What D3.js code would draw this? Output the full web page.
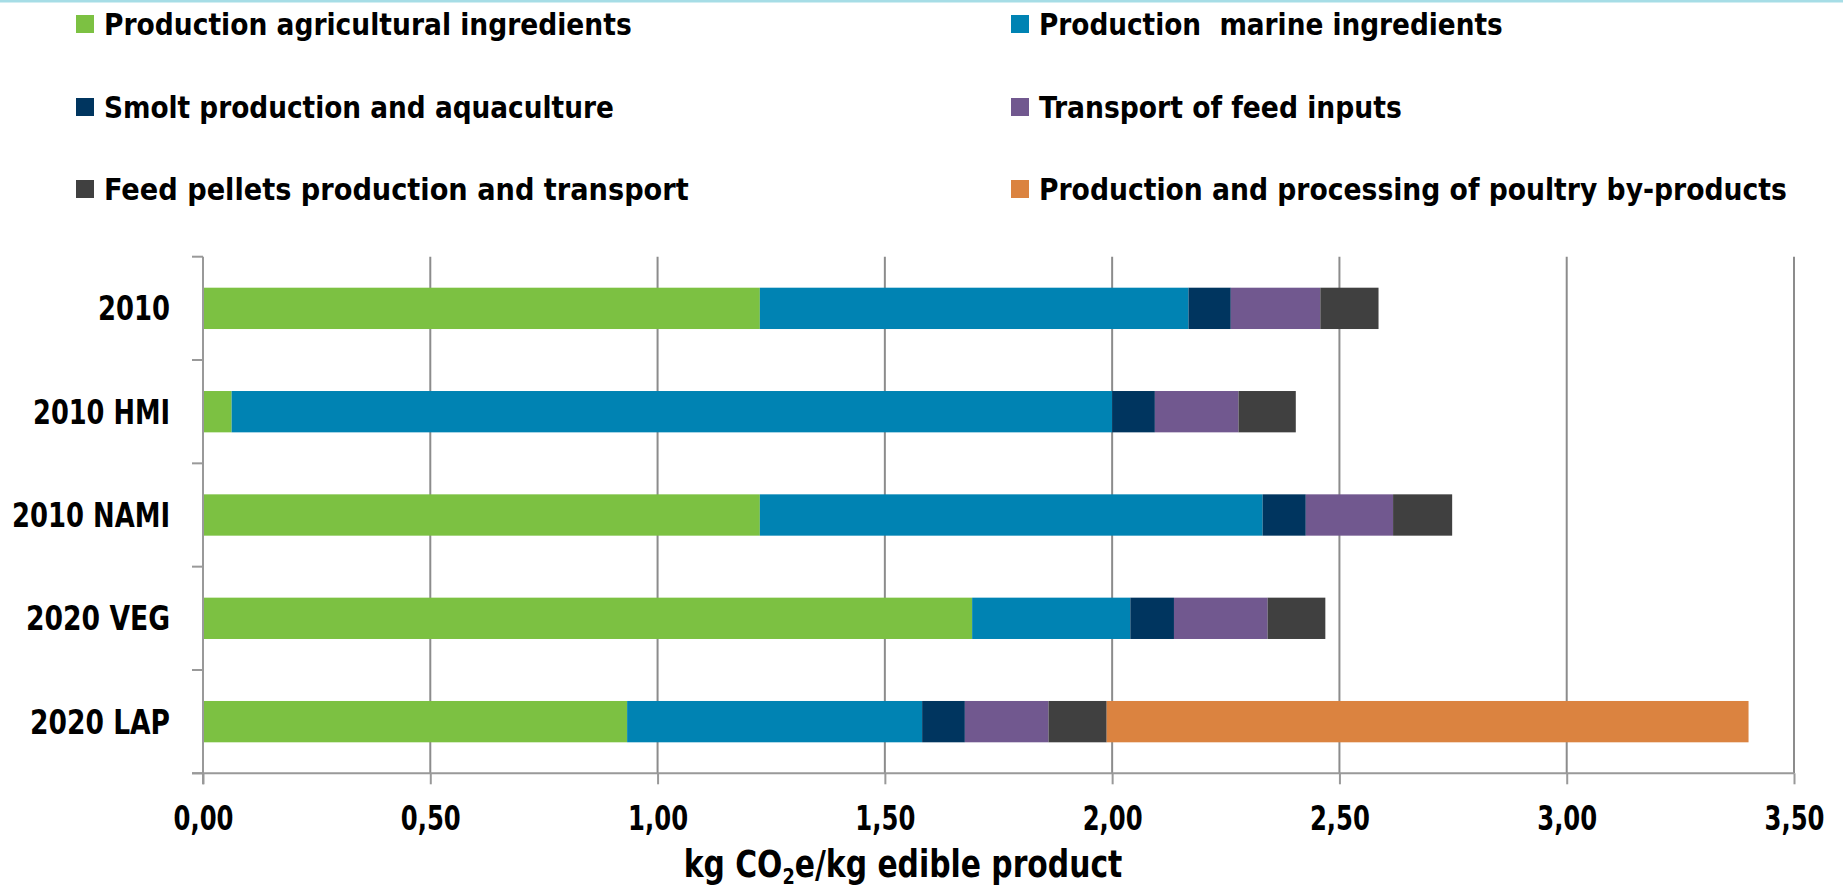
<!DOCTYPE html>
<html>
<head>
<meta charset="utf-8">
<script src="https://cdn.jsdelivr.net/npm/d3@7"></script>
<style>
  html, body { margin: 0; padding: 0; background: #fff; }
  svg { display: block; }
  text { font-family: "Liberation Sans Narrow", "DejaVu Sans Condensed", "Roboto Condensed", sans-serif; font-weight: bold; fill: #000; }
</style>
</head>
<body>
<script>
// ---- data ----
const categories = ["2010", "2010 HMI", "2010 NAMI", "2020 VEG", "2020 LAP"];
const seriesNames = [
  "Production agricultural ingredients",
  "Production  marine ingredients",
  "Smolt production and aquaculture",
  "Transport of feed inputs",
  "Feed pellets production and transport",
  "Production and processing of poultry by-products"
];
const seriesColors = ["#7CC142", "#0083B3", "#00355F", "#71588F", "#404040", "#DB8340"];
const agricultural = [1.225, 0.063, 1.225, 1.692, 0.933];
const marine       = [0.943, 1.937, 1.106, 0.348, 0.649];
const smolt        = [0.093, 0.094, 0.095, 0.096, 0.094];
const transport    = [0.197, 0.184, 0.192, 0.206, 0.184];
const pellets      = [0.128, 0.126, 0.130, 0.127, 0.128];
const poultry      = [0.000, 0.000, 0.000, 0.000, 1.412];
const xTickValues = [0, 0.5, 1.0, 1.5, 2.0, 2.5, 3.0, 3.5];
const xTickLabels = ["0,00", "0,50", "1,00", "1,50", "2,00", "2,50", "3,00", "3,50"];
const xTitle = { pre: "kg CO", sub: "2", post: "e/kg edible product" };

// ---- layout ----
const W = 1843, H = 889;
const plot = { left: 203, right: 1794, top: 256.7, bottom: 773.3 };
// widths the condensed reference font occupies
const legendWidths = [528, 464, 510, 363, 585, 748];
const catWidths = [72, 137, 158, 144, 140];
const tickWidth = 60, titleWidth = 439;

const svg = d3.select("body").append("svg").attr("width", W).attr("height", H);

// squeeze a text horizontally about its anchor x so it spans the target width
function fit(node, ax, target) {
  const w = node.getBBox().width;
  if (w > 0) {
    const s = target / w;
    d3.select(node).attr("transform", `translate(${ax},0) scale(${s},1) translate(${-ax},0)`);
  }
}

// top cyan rule
svg.append("rect").attr("x", 0).attr("y", 0).attr("width", W).attr("height", 2.5).attr("fill", "#A6DDE6");

const x = d3.scaleLinear().domain([0, 3.5]).range([plot.left, plot.right]);
const y = d3.scaleBand().domain(categories).range([plot.top, plot.bottom]).paddingInner(0.6).paddingOuter(0.3);

// build table
const seriesArrays = [agricultural, marine, smolt, transport, pellets, poultry];
const keys = seriesNames.map((d, i) => "s" + i);
const table = categories.map((c, ci) => {
  const row = { cat: c };
  keys.forEach((k, si) => row[k] = seriesArrays[si][ci]);
  return row;
});
const stacked = d3.stack().keys(keys)(table);

// gridlines
svg.append("g").selectAll("line").data(xTickValues.filter(v => v > 0)).join("line")
  .attr("x1", d => x(d)).attr("x2", d => x(d))
  .attr("y1", plot.top).attr("y2", plot.bottom)
  .attr("stroke", "#8C8C8C").attr("stroke-width", 2);

// bars
svg.append("g").selectAll("g").data(stacked).join("g")
  .attr("fill", (d, i) => seriesColors[i])
  .selectAll("rect").data(d => d.filter(p => p[1] - p[0] > 0)).join("rect")
  .attr("x", d => x(d[0]))
  .attr("width", d => x(d[1]) - x(d[0]))
  .attr("y", d => y(d.data.cat))
  .attr("height", y.bandwidth());

// left axis line + category ticks
const step = (plot.bottom - plot.top) / categories.length;
const bounds = d3.range(categories.length + 1).map(i => plot.top + i * step);
svg.append("line").attr("x1", plot.left).attr("x2", plot.left)
  .attr("y1", plot.top).attr("y2", plot.bottom + 11)
  .attr("stroke", "#999").attr("stroke-width", 2);
svg.append("g").selectAll("line").data(bounds).join("line")
  .attr("x1", plot.left - 11).attr("x2", plot.left)
  .attr("y1", d => d).attr("y2", d => d)
  .attr("stroke", "#999").attr("stroke-width", 2);

// bottom axis
const xAxis = d3.axisBottom(x).tickValues(xTickValues)
  .tickFormat((d, i) => xTickLabels[i]).tickSize(11).tickSizeOuter(0);
const gx = svg.append("g").attr("transform", `translate(0,${plot.bottom})`).call(xAxis);
gx.attr("font-family", null).attr("font-size", null);
gx.select(".domain").remove();
gx.selectAll(".tick line").attr("stroke", "#999").attr("stroke-width", 2);
gx.selectAll(".tick text").attr("y", 57).attr("dy", null)
  .style("font-size", "34px").attr("fill", "#000")
  .each(function () { fit(this, 0, tickWidth); });
svg.append("line").attr("x1", plot.left - 11).attr("x2", plot.right)
  .attr("y1", plot.bottom).attr("y2", plot.bottom)
  .attr("stroke", "#999").attr("stroke-width", 2);

// category labels
svg.append("g").selectAll("text").data(categories).join("text")
  .attr("x", 170).attr("y", d => y(d) + y.bandwidth() / 2 + 12)
  .attr("text-anchor", "end")
  .style("font-size", "33px").text(d => d)
  .each(function (d, i) { fit(this, 170, catWidths[i]); });

// x title
const t = svg.append("text").attr("x", 903).attr("y", 877).attr("text-anchor", "middle").style("font-size", "37px");
t.append("tspan").text(xTitle.pre);
t.append("tspan").attr("dy", 7).style("font-size", "22px").text(xTitle.sub);
t.append("tspan").attr("dy", -7).text(xTitle.post);
fit(t.node(), 903, titleWidth);

// legend
const legendPos = [
  { x: 76, y: 24 }, { x: 1011, y: 24 },
  { x: 76, y: 107 }, { x: 1011, y: 107 },
  { x: 76, y: 189 }, { x: 1011, y: 189 }
];
const lg = svg.append("g").selectAll("g").data(seriesNames).join("g")
  .attr("transform", (d, i) => `translate(${legendPos[i].x},${legendPos[i].y})`);
lg.append("rect").attr("x", 0).attr("y", -9).attr("width", 18).attr("height", 18)
  .attr("fill", (d, i) => seriesColors[i]);
lg.append("text").attr("x", 28).attr("y", 11)
  .style("font-size", "31px").style("white-space", "pre").text(d => d)
  .each(function (d, i) { fit(this, 28, legendWidths[i]); });
</script>
</body>
</html>
